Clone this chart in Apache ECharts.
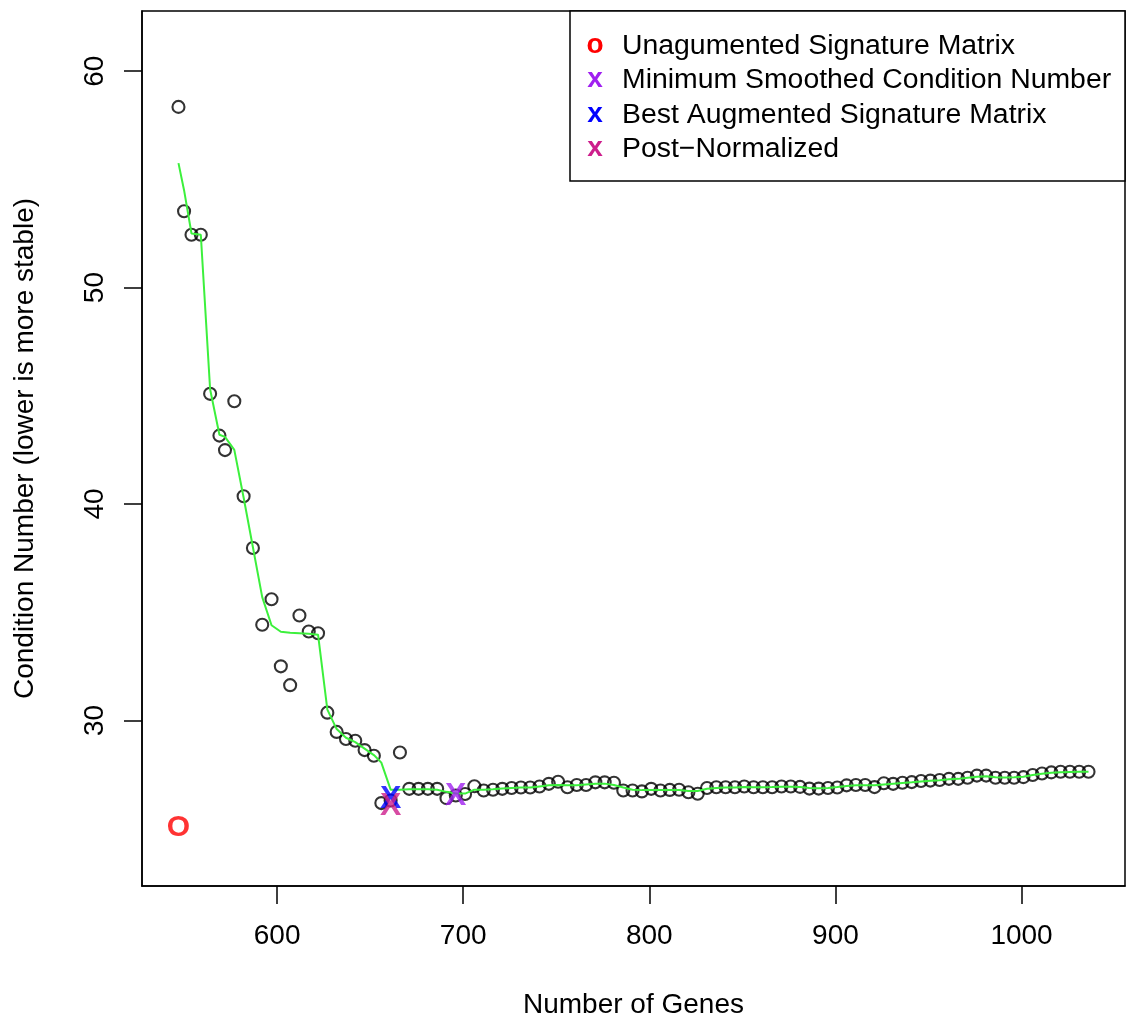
<!DOCTYPE html>
<html>
<head>
<meta charset="UTF-8">
<title>Condition Number vs Number of Genes</title>
<script src="https://cdn.jsdelivr.net/npm/echarts@6/dist/echarts.min.js"></script>
<style type="text/css">
	html, body { margin: 0; padding: 0; background: #fff; }
	#chart { width: 1129px; height: 1024px; }
</style>
</head>
<body>
<div id="chart"></div>
<script type="text/javascript">
// number of genes at each step
var genes = [547, 550, 554, 559, 564, 569, 572, 577, 582, 587, 592, 597, 602, 607, 612, 617, 622, 627, 632, 637,
	642, 647, 652, 656, 661, 666, 671, 676, 681, 686, 691, 696, 701, 706, 711, 716, 721, 726, 731, 736,
	741, 746, 751, 756, 761, 766, 771, 776, 781, 786, 791, 796, 801, 806, 811, 816, 821, 826, 831, 836,
	841, 846, 851, 856, 861, 866, 871, 876, 881, 886, 891, 896, 901, 906, 911, 916, 921, 926, 931, 936,
	941, 946, 951, 956, 961, 966, 971, 976, 981, 986, 991, 996, 1001, 1006, 1011, 1016, 1021, 1026, 1031, 1036];
// condition number of each signature matrix
var condNumber = [58.35, 53.53, 52.44, 52.44, 45.09, 43.16, 42.49, 44.75, 40.36, 37.97, 34.42, 35.60, 32.50, 31.63, 34.85, 34.11, 34.03, 30.36, 29.47, 29.14,
	29.06, 28.63, 28.37, 26.18, 26.30, 28.52, 26.84, 26.84, 26.84, 26.84, 26.41, 26.53, 26.60, 26.96, 26.76, 26.80, 26.84, 26.88, 26.90, 26.90,
	26.95, 27.07, 27.17, 26.91, 27.02, 27.02, 27.14, 27.14, 27.12, 26.76, 26.76, 26.72, 26.84, 26.76, 26.79, 26.80, 26.68, 26.61, 26.88, 26.91,
	26.91, 26.91, 26.95, 26.91, 26.91, 26.91, 26.95, 26.95, 26.93, 26.85, 26.85, 26.88, 26.90, 27.00, 27.02, 27.02, 26.92, 27.10, 27.07, 27.12,
	27.15, 27.20, 27.22, 27.25, 27.30, 27.30, 27.35, 27.45, 27.45, 27.35, 27.35, 27.35, 27.38, 27.48, 27.55, 27.60, 27.63, 27.63, 27.63, 27.63];
// smoothed curve (green)
var smoothed = [55.75, 54.50, 52.50, 52.44, 45.30, 43.20, 43.10, 42.50, 40.30, 38.00, 35.70, 34.40, 34.10, 34.05, 34.03, 34.00, 33.96, 30.50, 29.60, 29.20,
	29.00, 28.70, 28.40, 28.05, 26.80, 26.80, 26.82, 26.82, 26.82, 26.80, 26.70, 26.62, 26.62, 26.80, 26.80, 26.82, 26.85, 26.88, 26.90, 26.90,
	26.95, 27.00, 27.02, 27.00, 27.00, 27.04, 27.08, 27.08, 27.02, 26.90, 26.80, 26.78, 26.78, 26.78, 26.79, 26.79, 26.74, 26.74, 26.84, 26.88,
	26.90, 26.90, 26.92, 26.91, 26.91, 26.92, 26.94, 26.94, 26.92, 26.88, 26.87, 26.88, 26.92, 26.97, 27.00, 27.00, 27.00, 27.04, 27.08, 27.11,
	27.14, 27.18, 27.21, 27.24, 27.28, 27.30, 27.35, 27.40, 27.42, 27.38, 27.36, 27.37, 27.40, 27.48, 27.54, 27.58, 27.61, 27.62, 27.63, 27.63];

// highlighted matrices: [genes, condition number]
var unaugmented = [547, 25.11];
var minSmoothed = [696, 26.53];
var bestAugmented = [661, 26.41];
var postNormalized = [661, 26.07];

var legendLabels = ['Unagumented Signature Matrix', 'Minimum Smoothed Condition Number', 'Best Augmented Signature Matrix', 'Post\u2212Normalized'];
var legendChars = ['o', 'x', 'x', 'x'];
var legendColors = ['#ff0000', '#a020f0', '#0000ff', '#cd1e8c'];

var xTicks = [600, 700, 800, 900, 1000];
var yTicks = [30, 40, 50, 60];

var FONT = '"Liberation Sans", Arial, Helvetica, sans-serif';

var pts = [];
var line = [];
for (var i = 0; i < genes.length; i++) {
	pts.push([genes[i], condNumber[i]]);
	line.push([genes[i], smoothed[i]]);
}

// a single point drawn as a coloured character
function charMark(name, pos, ch, color, size) {
	return {
		name: name,
		type: 'scatter',
		data: [pos],
		symbol: 'circle',
		symbolSize: 0.1,
		itemStyle: { color: 'transparent' },
		z: 5,
		silent: true,
		label: {
			show: true,
			position: 'inside',
			formatter: ch,
			color: color,
			fontFamily: FONT,
			fontSize: size,
			fontWeight: 'bold',
			offset: [0, 1]
		}
	};
}

var legendItems = [{
	type: 'rect',
	shape: { x: 570, y: 11, width: 555, height: 170 },
	style: { fill: '#fff', stroke: '#000', lineWidth: 1.5 }
}];
for (var k = 0; k < legendLabels.length; k++) {
	legendItems.push({
		type: 'text',
		x: 595, y: 45 + k * 34.4,
		style: { text: legendChars[k], fill: legendColors[k], font: 'bold 28px ' + FONT, textAlign: 'center', textVerticalAlign: 'middle' }
	});
	legendItems.push({
		type: 'text',
		x: 622, y: 46 + k * 34.4,
		style: { text: legendLabels[k], fill: '#000', font: '28.4px ' + FONT, textAlign: 'left', textVerticalAlign: 'middle' }
	});
}

var myChart = echarts.init(document.getElementById('chart'), null, { renderer: 'canvas' });
var option = {
	backgroundColor: '#fff',
	animation: false,
	textStyle: { fontFamily: FONT },
	grid: {
		left: 142, right: 4, top: 11, bottom: 133,
		show: true, borderColor: '#000', borderWidth: 1.5, backgroundColor: 'transparent'
	},
	xAxis: {
		type: 'value',
		min: 527.4, max: 1055.6,
		name: 'Number of Genes',
		nameLocation: 'middle',
		nameGap: 105,
		nameTextStyle: { fontSize: 28, color: '#000', fontFamily: FONT },
		splitLine: { show: false },
		axisLine: { show: true, onZero: false, lineStyle: { color: '#000', width: 1.5 } },
		axisTick: { show: true, length: 18, customValues: xTicks, lineStyle: { color: '#000', width: 1.5 } },
		axisLabel: { customValues: xTicks, margin: 36, fontSize: 28, color: '#000', fontFamily: FONT,
			formatter: function (v) { return String(v); } }
	},
	yAxis: {
		type: 'value',
		min: 22.35, max: 62.78,
		name: 'Condition Number (lower is more stable)',
		nameLocation: 'middle',
		nameGap: 103,
		nameRotate: 90,
		nameTextStyle: { fontSize: 28, color: '#000', fontFamily: FONT },
		splitLine: { show: false },
		axisLine: { show: true, onZero: false, lineStyle: { color: '#000', width: 1.5 } },
		axisTick: { show: true, length: 18, customValues: yTicks, lineStyle: { color: '#000', width: 1.5 } },
		axisLabel: { customValues: yTicks, margin: 33, rotate: 90, fontSize: 28, color: '#000', fontFamily: FONT,
			formatter: function (v) { return String(v); } }
	},
	graphic: legendItems,
	series: [{
		name: 'Condition Number',
		type: 'scatter',
		data: pts,
		symbol: 'circle',
		symbolSize: 12,
		itemStyle: { color: 'transparent', borderColor: '#000', borderWidth: 2.1 },
		z: 2
	}, {
		name: 'Smoothed',
		type: 'line',
		data: line,
		symbol: 'none',
		lineStyle: { color: '#3cf03c', width: 2 },
		z: 3
	},
		charMark('Unagumented Signature Matrix', unaugmented, 'O', legendColors[0], 30),
		charMark('Best Augmented Signature Matrix', bestAugmented, 'X', legendColors[2], 32),
		charMark('Post-Normalized', postNormalized, 'X', legendColors[3], 32),
		charMark('Minimum Smoothed Condition Number', minSmoothed, 'X', legendColors[1], 32)
	]
};
myChart.setOption(option);
</script>
</body>
</html>
